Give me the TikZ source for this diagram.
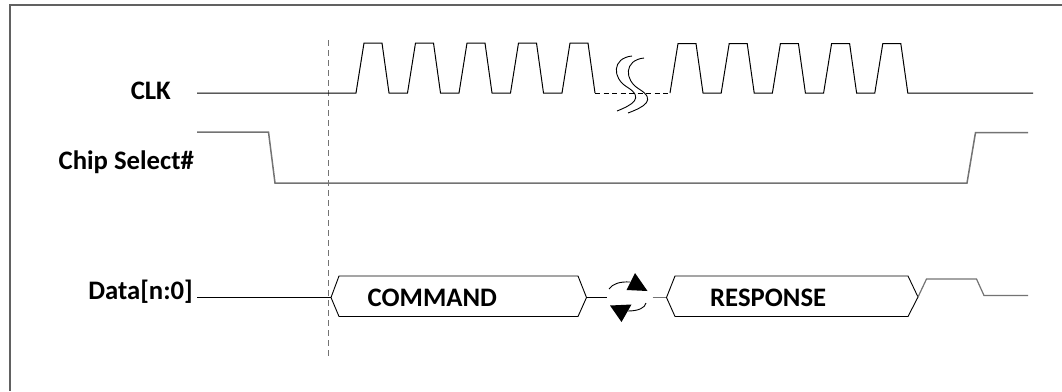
\documentclass[tikz,border=0pt]{standalone}
\usepackage{fontspec}
\setmainfont{Carlito}
\begin{document}
\begin{tikzpicture}[x=1pt,y=-1pt,
  lbl/.style={font=\fontsize{26.7}{30}\selectfont\bfseries, inner sep=0pt},
  sig/.style={line width=1pt, black},
  gsig/.style={line width=1.5pt, color=black!55},
  thin/.style={line width=0.9pt, black},
  frame/.style={line width=2pt, color=black!62},
  guide/.style={line width=1pt, color=black!55, dash pattern=on 6pt off 4pt},
  brk/.style={line width=0.9pt, black, dash pattern=on 5pt off 3.5pt},
  swirl/.style={line width=0.9pt, black},
  tip/.style={fill=black, draw=none}]
\useasboundingbox (0,0) rectangle (1062,391);
% frame (only top and left visible)
\draw[frame] (1062,5) -- (10,5) -- (10,391);
% labels
\node[lbl, anchor=base east] (clk) at (171,99) {CLK};
\node[lbl, anchor=base east] (cs) at (194,169) {Chip Select\#};
\node[lbl, anchor=base east] (data) at (193,299.5) {Data[n:0]};
% guide line
\coordinate (gtop) at (328,40);
\coordinate (gbot) at (328,358);
\draw[guide] (gtop) -- (gbot);
% CLK
\draw[sig] (197,93) \foreach \r in {356,407.5,459,510.5,562} { -- (\r,93) -- (\r+8,43) -- (\r+26,43) -- (\r+33,93) } -- (595,93);
\draw[brk] (595,93) -- (670,93);
\draw[sig] (670,93) \foreach \r in {670,721.2,772.4,823.6,874.8} { -- (\r,93) -- (\r+8,43.5) -- (\r+26,43.5) -- (\r+33,93) } -- (1033,93);
% break marks
\draw[swirl] (632,56) .. controls (612,58) and (612,78) .. (627,87) .. controls (645,98) and (632,105) .. (617,111);
\draw[swirl] (644,58) .. controls (624,60) and (624,80) .. (639,89) .. controls (657,100) and (644,107) .. (628,113);
% Chip select
\draw[gsig] (197,132) -- (268.5,132) -- (275,183) -- (967,183) -- (975.5,132.5) -- (1028,132.5);
% Data
\draw[thin] (197,297.5) -- (331,297.5);
\draw[thin] (331,297.5) -- (339,276) -- (578,276) -- (586.5,297.5) -- (578,316.5) -- (339,316.5) -- cycle;
\node[lbl, anchor=base west] (cmd) at (367.5,306) {COMMAND};
\draw[thin] (586.5,297.5) -- (606.5,297.5);
% turnaround arrows
\draw[thin] (609,289) .. controls (613,283.5) and (620,281.5) .. (630,282);
\fill[tip] (635,273) -- (626.5,290) -- (647.5,291) -- cycle;
\draw[thin] (646,303) .. controls (645,308) and (638,311) .. (628,311);
\fill[tip] (610,305.5) -- (631.5,304.5) -- (621.5,322) -- cycle;
\draw[gsig, line width=1.2pt] (652.5,297.5) -- (666.5,297.5);
\draw[thin] (666.5,297.5) -- (675,276) -- (908,276) -- (918,297) -- (908,316.5) -- (675,316.5) -- cycle;
\node[lbl, anchor=base west] (rsp) at (710,306) {RESPONSE};
\draw[gsig, line width=1.2pt] (918,297) -- (926.5,279) -- (976.5,279) -- (984,295.5) -- (1028,295.5);
\end{tikzpicture}
\end{document}
